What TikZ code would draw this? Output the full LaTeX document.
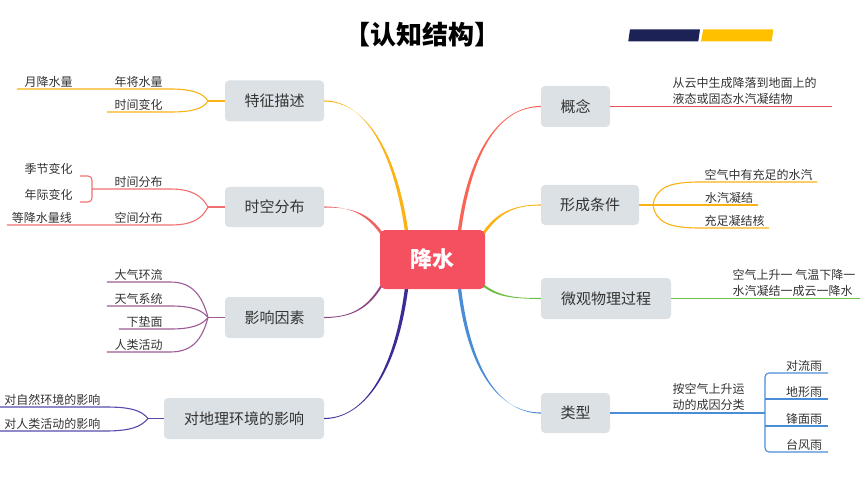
\documentclass[tikz,border=0pt]{standalone}
\usepackage{fontspec}
\newfontfamily\cjk{Noto Sans CJK SC}
\usetikzlibrary{calc,backgrounds}
\definecolor{mmyellow}{RGB}{250,178,20}
\definecolor{mmred}{RGB}{240,100,100}
\definecolor{mmleafred}{RGB}{240,112,112}
\definecolor{mmcoral}{RGB}{250,100,85}
\definecolor{mmlinered}{RGB}{232,80,90}
\definecolor{mmgreen}{RGB}{110,190,70}
\definecolor{mmpurple}{RGB}{140,70,130}
\definecolor{mmleafpurple}{RGB}{155,90,148}
\definecolor{mmindigo}{RGB}{60,45,150}
\definecolor{mmleafindigo}{RGB}{85,75,170}
\definecolor{mmblue}{RGB}{75,140,215}
\definecolor{boxgray}{RGB}{220,225,229}
\definecolor{centerred}{RGB}{245,80,95}
\definecolor{txtgray}{RGB}{51,51,51}
\definecolor{barnavy}{RGB}{28,34,85}
\definecolor{baryellow}{RGB}{255,192,0}
\newcommand\mmtaper[6]{\fill[#1] ($(#2)+(#6)$) .. controls ($(#3)+(#6)$) and (#4) .. ($(#5)+(0,0.6)$) -- ($(#5)-(0,0.6)$) .. controls (#4) and ($(#3)-(#6)$) .. ($(#2)-(#6)$) -- cycle;}
\tikzset{
  mmbox/.style={fill=boxgray, rounded corners=4pt, font=\cjk\fontsize{15}{18}\selectfont, text=txtgray, inner sep=0pt},
  centerbox/.style={fill=centerred, rounded corners=5pt, font=\cjk\bfseries\fontsize{22}{26}\selectfont, text=white, inner sep=0pt},
  leaf/.style={font=\cjk\fontsize{12}{14}\selectfont, text=txtgray, anchor=south, inner xsep=0pt, inner ysep=1.5pt},
  note/.style={font=\cjk\fontsize{12}{16}\selectfont, text=txtgray, align=left, anchor=south west, inner sep=1.5pt},
  sub/.style={line width=1.1pt},
}
\begin{document}
\begin{tikzpicture}[x=1pt,y=-1pt]
\useasboundingbox (0,0) rectangle (860,484);
% title and bars
\node[font=\cjk\bfseries\fontsize{26}{30}\selectfont] (title) at (422,35) {【认知结构】};
\fill[barnavy] (630,29.3) -- (700,29.3) -- (698.3,41.3) -- (628.3,41.3) -- cycle;
\fill[baryellow] (703.3,29.3) -- (773.3,29.3) -- (771.7,41.3) -- (701,41.3) -- cycle;
% central and main boxes
\node[centerbox, minimum width=105pt, minimum height=59pt] (c) at (432.5,259.5) {降水};
\node[mmbox, minimum width=99pt, minimum height=41pt] (tz) at (274.5,101) {特征描述};
\node[mmbox, minimum width=99pt, minimum height=40pt] (sk) at (274.5,207) {时空分布};
\node[mmbox, minimum width=99pt, minimum height=41pt] (yx) at (274.5,317.5) {影响因素};
\node[mmbox, minimum width=160pt, minimum height=41pt] (dl) at (244,418.5) {对地理环境的影响};
\node[mmbox, minimum width=69pt, minimum height=41pt] (gn) at (575.5,106.5) {概念};
\node[mmbox, minimum width=98pt, minimum height=40pt] (xc) at (590,205) {形成条件};
\node[mmbox, minimum width=130pt, minimum height=41pt] (wg) at (606,298.5) {微观物理过程};
\node[mmbox, minimum width=69pt, minimum height=40pt] (lx) at (575.5,413) {类型};
% main tapered connectors
\begin{scope}[on background layer]
\coordinate (s1) at ($(c.north west)+(27,3)$);
\coordinate (s2) at ($(c.north east)+(-26,3)$);
\coordinate (s3) at ($(c.north east)+(-2,4)$);
\coordinate (s4) at ($(c.north west)+(2,4)$);
\coordinate (s5) at ($(c.south east)+(-2,-4)$);
\coordinate (s6) at ($(c.south west)+(2,-4)$);
\coordinate (s7) at ($(c.south west)+(27,-3)$);
\coordinate (s8) at ($(c.south east)+(-26,-3)$);
\mmtaper{mmyellow}{s1}{395,150}{365,101}{tz.east}{1.7,0}
\mmtaper{mmcoral}{s2}{470,150}{500,106.5}{gn.west}{1.7,0}
\mmtaper{mmyellow}{s3}{497,214}{512,205}{xc.west}{1,1}
\mmtaper{mmred}{s4}{368,214}{352,207}{sk.east}{1,-1}
\mmtaper{mmgreen}{s5}{497,296}{512,298.5}{wg.west}{-0.5,1}
\mmtaper{mmpurple}{s6}{368,308}{352,317.5}{yx.east}{0.5,1}
\mmtaper{mmindigo}{s7}{395,380}{360,418.5}{dl.east}{1.7,0}
\mmtaper{mmblue}{s8}{470,380}{505,413}{lx.west}{1.7,0}
\end{scope}
% ---- 特征描述 branch
\coordinate (f1) at (208,101);
\node[leaf, minimum width=63pt] (nj) at (138.5,89) {年将水量};
\node[leaf, minimum width=63pt] (yj) at (48.5,89) {月降水量};
\node[leaf, minimum width=63pt] (sjbh) at (138.5,112) {时间变化};
\draw[sub, mmyellow] (tz.west) -- (f1);
\draw[sub, mmyellow] (f1) .. controls (203,93) and (192,89) .. (nj.south east) -- (nj.south west) -- (yj.south east) -- (yj.south west);
\draw[sub, mmyellow] (f1) .. controls (203,109) and (192,112) .. (sjbh.south east) -- (sjbh.south west);
% ---- 时空分布 branch
\coordinate (f2) at (208,207);
\coordinate (b2m) at (92,189);
\coordinate (b2t) at (92,176);
\coordinate (b2b) at (92,202);
\node[leaf, minimum width=63pt] (sjfb) at (138.5,189) {时间分布};
\node[leaf, minimum width=63pt] (kjfb) at (138.5,225) {空间分布};
\node[leaf, minimum width=63pt] (jjbh) at (48.5,176) {季节变化};
\node[leaf, minimum width=63pt] (njbh) at (48.5,202) {年际变化};
\node[leaf, minimum width=70pt] (djsl) at (42,225) {等降水量线};
\draw[sub, mmleafred] (sk.west) -- (f2);
\draw[sub, mmleafred] (f2) .. controls (202,196) and (192,189) .. (sjfb.south east) -- (sjfb.south west) -- (b2m);
\draw[sub, mmleafred, rounded corners=4pt] (jjbh.south east) -- (b2t) -- (b2b) -- (njbh.south east);
\draw[sub, mmleafred] (f2) .. controls (202,219) and (192,225) .. (kjfb.south east) -- (kjfb.south west) -- (djsl.south east) -- (djsl.south west);
% ---- 影响因素 branch
\coordinate (f3) at (208,317.5);
\node[leaf, minimum width=63pt] (dqhl) at (138.5,282) {大气环流};
\node[leaf, minimum width=63pt] (tqxt) at (138.5,306) {天气系统};
\node[leaf, minimum width=51pt] (xdm) at (144.5,329) {下垫面};
\node[leaf, minimum width=63pt] (rlhd) at (138.5,352) {人类活动};
\draw[sub, mmleafpurple] (yx.west) -- (f3);
\draw[sub, mmleafpurple] (f3) .. controls (202,295) and (192,282) .. (dqhl.south east) -- (dqhl.south west);
\draw[sub, mmleafpurple] (f3) .. controls (202,310) and (192,306) .. (tqxt.south east) -- (tqxt.south west);
\draw[sub, mmleafpurple] (f3) .. controls (202,325) and (192,329) .. (xdm.south east) -- (xdm.south west);
\draw[sub, mmleafpurple] (f3) .. controls (202,340) and (192,352) .. (rlhd.south east) -- (rlhd.south west);
% ---- 对地理环境的影响 branch
\coordinate (f4) at (148,418.5);
\node[leaf, minimum width=105pt] (zrhj) at (52.5,407) {对自然环境的影响};
\node[leaf, minimum width=105pt] (rlhj) at (52.5,431) {对人类活动的影响};
\draw[sub, mmleafindigo] (dl.west) -- (f4);
\draw[sub, mmleafindigo] (f4) .. controls (141,410) and (130,407) .. (zrhj.south east) -- (zrhj.south west);
\draw[sub, mmleafindigo] (f4) .. controls (141,427) and (130,431) .. (rlhj.south east) -- (rlhj.south west);
% ---- 概念 branch
\coordinate (gnend) at (832,106.5);
\draw[sub, mmlinered] (gn.east) -- (gnend);
\node[note] (gnt) at (671,106.5) {从云中生成降落到地面上的\\液态或固态水汽凝结物};
% ---- 形成条件 branch
\coordinate (f5) at (653,205);
\node[leaf, minimum width=117pt] (kq) at (758.5,182) {空气中有充足的水汽};
\node[leaf, minimum width=58pt] (sqnj) at (729,205) {水汽凝结};
\node[leaf, minimum width=69pt] (czn) at (734.5,228) {充足凝结核};
\draw[sub, mmyellow] (xc.east) -- (f5);
\draw[sub, mmyellow] (f5) .. controls (656,188) and (668,182) .. (kq.south west) -- (kq.south east);
\draw[sub, mmyellow] (f5) -- (sqnj.south west) -- (sqnj.south east);
\draw[sub, mmyellow] (f5) .. controls (656,222) and (668,228) .. (czn.south west) -- (czn.south east);
% ---- 微观物理过程 branch
\coordinate (wgend) at (860,298.5);
\draw[sub, mmgreen] (wg.east) -- (wgend);
\node[note] (wgt) at (731,298.5) {空气上升一 气温下降一\\水汽凝结一成云一降水};
% ---- 类型 branch
\coordinate (f6) at (765,413);
\coordinate (b6t) at (765,373);
\coordinate (b6a) at (765,399);
\coordinate (b6b) at (765,426);
\coordinate (b6e) at (765,452);
\node[note] (lxt) at (671,412) {按空气上升运\\动的成因分类};
\node[leaf, minimum width=48pt] (dly) at (804,373) {对流雨};
\node[leaf, minimum width=48pt] (dxy) at (804,399) {地形雨};
\node[leaf, minimum width=48pt] (fmy) at (804,426) {锋面雨};
\node[leaf, minimum width=48pt] (tfy) at (804,452) {台风雨};
\draw[sub, mmblue] (lx.east) -- (f6);
\draw[sub, mmblue, rounded corners=4pt] (dly.south east) -- (dly.south west) -- (b6t) -- (b6e) -- (tfy.south west) -- (tfy.south east);
\draw[sub, mmblue] (b6a) -- (dxy.south west) -- (dxy.south east);
\draw[sub, mmblue] (b6b) -- (fmy.south west) -- (fmy.south east);
\end{tikzpicture}
\end{document}
